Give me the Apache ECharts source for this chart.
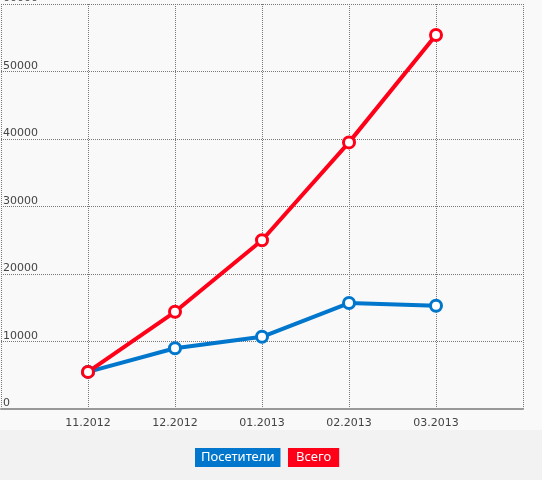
<!DOCTYPE html>
<html><head><meta charset="utf-8">
<script src="https://cdn.jsdelivr.net/npm/echarts@6/dist/echarts.min.js"></script>
<style>html,body{margin:0;padding:0;background:#f2f2f2}#c{width:542px;height:480px}</style>
</head><body><div id="c"></div>
<script>
const categories = ['', '11.2012', '12.2012', '01.2013', '02.2013', '03.2013', ''];
const visitors = [null, 5500, 9000, 10700, 15700, 15300, null];
const total = [null, 5500, 14400, 25000, 39500, 55400, null];
const legendNames = ['Посетители', 'Всего'];
const colors = ['#0077cc', '#ff0018'];
const chart = echarts.init(document.getElementById('c'));
const font = 'DejaVu Sans';
chart.setOption({
  animation: false,
  backgroundColor: '#f2f2f2',
  grid: {left: 1, right: 19, top: 4, bottom: 71, outerBoundsMode: 'none', containLabel: false, show: true, backgroundColor: '#f9f9f9', borderWidth: 0},
  graphic: [
    {type: 'rect', left: 0, top: 0, shape: {width: 542, height: 430}, style: {fill: '#f9f9f9'}, z: -10},
    {type: 'text', left: 195, top: 448, style: {text: legendNames[0], fill: '#fff', font: '13px "Noto Sans"', backgroundColor: colors[0], padding: [3, 6, 3, 6]}},
    {type: 'text', left: 288, top: 448, style: {text: legendNames[1], fill: '#fff', font: '13px "Noto Sans"', backgroundColor: colors[1], padding: [3, 8, 3, 8]}}
  ],
  xAxis: {
    type: 'category', data: categories, boundaryGap: false,
    axisLine: {lineStyle: {color: '#999', width: 2}}, axisTick: {show: false},
    axisLabel: {color: '#444', fontFamily: font, fontSize: 11, margin: 9, interval: 0},
    splitLine: {show: true, lineStyle: {color: '#777', type: 'dotted'}}
  },
  yAxis: {
    type: 'value', min: 0, max: 60000, interval: 10000,
    axisLine: {show: false}, axisTick: {show: false},
    axisLabel: {inside: true, color: '#444', fontFamily: font, fontSize: 11, verticalAlign: 'bottom', margin: 2, showMinLabel: true, formatter: v => String(v)},
    splitLine: {lineStyle: {color: '#777', type: 'dotted'}}
  },
  series: [
    {name: legendNames[0], type: 'line', data: visitors, lineStyle: {width: 4, color: colors[0]}, symbol: 'circle', symbolSize: 11, itemStyle: {color: '#fff', borderColor: colors[0], borderWidth: 3}},
    {name: legendNames[1], type: 'line', data: total, lineStyle: {width: 4, color: colors[1]}, symbol: 'circle', symbolSize: 11, itemStyle: {color: '#fff', borderColor: colors[1], borderWidth: 3}, z: 3}
  ]
});
</script></body></html>
